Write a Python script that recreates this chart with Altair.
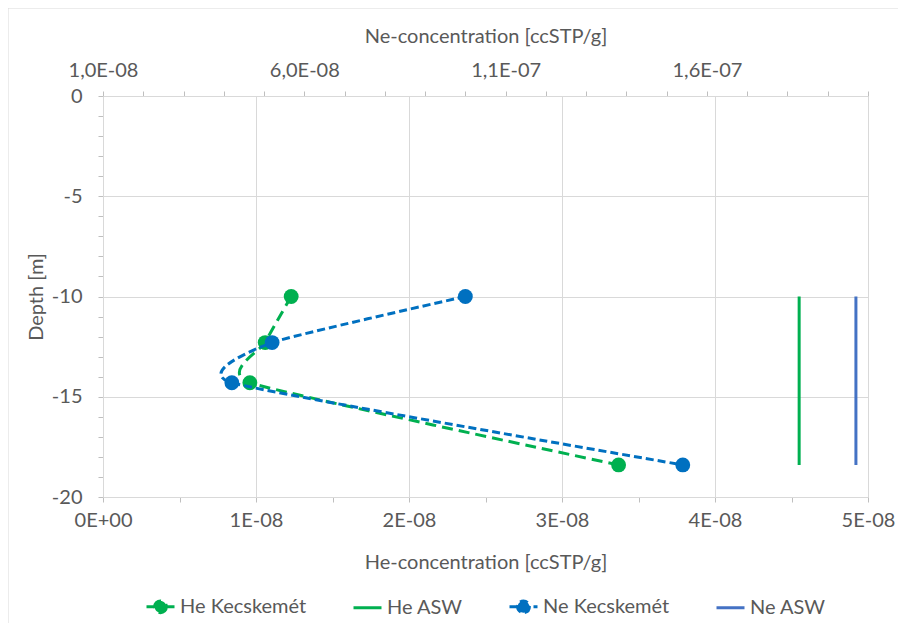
import altair as alt
import pandas as pd

# ---- data ----
depth = [-10.0, -12.3, -14.3, -18.4]
he_kecskemet = [1.23e-8, 1.06e-8, 0.96e-8, 3.37e-8]
ne_kecskemet = [1.00e-7, 5.2e-8, 4.2e-8, 1.54e-7]
asw_depth = [-10.0, -18.4]
he_asw = [4.55e-8, 4.55e-8]
ne_asw = [1.97e-7, 1.97e-7]

series = ["He Kecskemét", "He ASW", "Ne Kecskemét", "Ne ASW"]
colors = ["#00B050", "#00B050", "#0070C0", "#4472C4"]
dashes = [[11, 6], [1, 0], [8, 4], [1, 0]]

he_ticks = [0, 0.5e-8, 1e-8, 1.5e-8, 2e-8, 2.5e-8, 3e-8, 3.5e-8, 4e-8, 4.5e-8, 5e-8]
ne_ticks = [i * 1e-8 for i in range(1, 21)]
y_ticks = list(range(-20, 1))

FONT = "Lato"
TXT = "#595959"
GRID = "#D9D9D9"

path_k = "M-1,0L1,0M0.42,0A0.42,0.42,0,1,1,-0.42,0A0.42,0.42,0,1,1,0.42,0Z"
path_l = "M-1,0L1,0"

he_df = pd.DataFrame({"series": series[0], "x": he_kecskemet, "depth": depth, "idx": range(4)})
he_asw_df = pd.DataFrame({"series": series[1], "x": he_asw, "depth": asw_depth, "idx": range(2)})
ne_df = pd.DataFrame({"series": series[2], "x": ne_kecskemet, "depth": depth, "idx": range(4)})
ne_asw_df = pd.DataFrame({"series": series[3], "x": ne_asw, "depth": asw_depth, "idx": range(2)})

color = alt.Color("series:N", scale=alt.Scale(domain=series, range=colors), legend=alt.Legend(title=None))
dash = alt.StrokeDash("series:N", scale=alt.Scale(domain=series, range=dashes), legend=alt.Legend(title=None))
fill = alt.Fill("series:N", scale=alt.Scale(domain=series, range=colors), legend=alt.Legend(title=None))
shape = alt.Shape("series:N", scale=alt.Scale(domain=series, range=[path_k, path_l, path_k, path_l]),
                  legend=alt.Legend(title=None))

y_enc = alt.Y(
    "depth:Q",
    scale=alt.Scale(domain=[-20, 0], nice=False, zero=False),
    axis=alt.Axis(
        values=y_ticks,
        labelExpr="datum.value % 5 == 0 ? '' + datum.value : ''",
        gridOpacity={"condition": {"test": "datum.value % 5 == 0", "value": 1}, "value": 0},
        title="Depth [m]",
        tickSize=5,
        labelPadding=16,
        titlePadding=5,
    ),
)

x_he = alt.X(
    "x:Q",
    scale=alt.Scale(domain=[0, 5e-8], nice=False, zero=False),
    axis=alt.Axis(
        orient="bottom",
        values=he_ticks,
        labelExpr="round(datum.value*2e8) % 2 == 0 ? (datum.value == 0 ? '0E+00' : round(datum.value*1e8) + 'E-08') : ''",
        gridOpacity={"condition": {"test": "round(datum.value*2e8) % 2 == 0", "value": 1}, "value": 0},
        title="He-concentration [ccSTP/g]",
        labelFlush=False,
        labelOverlap=False,
        tickSize=5,
        labelPadding=8,
        titlePadding=22,
    ),
)

x_ne = alt.X(
    "x:Q",
    scale=alt.Scale(domain=[1e-8, 2e-7], nice=False, zero=False),
    axis=alt.Axis(
        orient="top",
        values=ne_ticks,
        labelExpr="round(datum.value*1e8) % 5 == 1 ? (datum.value < 1e-7 ? replace(format(datum.value*1e8, '.1f'), '.', ',') + 'E-08' : replace(format(datum.value*1e7, '.1f'), '.', ',') + 'E-07') : ''",
        grid=False,
        title="Ne-concentration [ccSTP/g]",
        labelFlush=False,
        labelOverlap=False,
        tickSize=5,
        labelPadding=11,
        titlePadding=14,
    ),
)

# He group
he_line = alt.Chart(he_df).mark_line(interpolate="cardinal", tension=0.5, strokeWidth=3).encode(
    x=x_he, y=y_enc, color=color, strokeDash=dash, order=alt.Order("idx:Q"))
he_asw_line = alt.Chart(he_asw_df).mark_line(strokeWidth=3).encode(
    x=x_he, y=y_enc, color=color, strokeDash=dash, order=alt.Order("idx:Q"))
he_pts = alt.Chart(he_df).mark_circle(size=220, opacity=1).encode(x=x_he, y=y_enc, color=color)
legend_layer = alt.Chart(he_df).mark_point(filled=False, strokeWidth=3).encode(
    x=x_he, y=y_enc, color=color, fill=fill, shape=shape, strokeDash=dash
).transform_filter("false")
border_df = pd.DataFrame({"k": [0]})
border_top = alt.Chart(border_df).mark_rule(color=GRID, strokeWidth=1).encode(
    x=alt.value(-95), x2=alt.value(805), y=alt.value(-88))
border_left = alt.Chart(border_df).mark_rule(color=GRID, strokeWidth=1).encode(
    x=alt.value(-95), y=alt.value(-88), y2=alt.value(530))

he_group = alt.layer(he_line, he_asw_line, he_pts, legend_layer, border_top, border_left)

# Ne group
ne_line = alt.Chart(ne_df).mark_line(interpolate="cardinal", tension=0.5, strokeWidth=3).encode(
    x=x_ne, y=y_enc, color=color, strokeDash=dash, order=alt.Order("idx:Q"))
ne_asw_line = alt.Chart(ne_asw_df).mark_line(strokeWidth=3).encode(
    x=x_ne, y=y_enc, color=color, strokeDash=dash, order=alt.Order("idx:Q"))
ne_pts = alt.Chart(ne_df).mark_circle(size=220, opacity=1).encode(x=x_ne, y=y_enc, color=color)
ne_group = alt.layer(ne_line, ne_asw_line, ne_pts)

chart = alt.layer(he_group, ne_group).resolve_scale(x="independent").properties(
    width=765,
    height=401,
    autosize=alt.AutoSizeParams(type="none"),
    padding={"left": 95, "top": 88, "right": 30, "bottom": 126},
).configure_view(stroke=None).configure_axis(
    domainColor=GRID,
    tickColor="#BFBFBF",
    gridColor=GRID,
    labelColor=TXT,
    titleColor=TXT,
    labelFont=FONT,
    titleFont=FONT,
    labelFontSize=20,
    titleFontSize=20,
    titleFontWeight="normal",
).configure_legend(
    orient="none",
    legendX=42,
    legendY=495,
    direction="horizontal",
    columns=4,
    symbolSize=784,
    symbolStrokeWidth=3,
    labelFont=FONT,
    labelFontSize=20,
    labelColor=TXT,
    columnPadding=40,
    labelOffset=4,
)

chart.save("out.html", embed_options={"renderer": "svg", "actions": False})
